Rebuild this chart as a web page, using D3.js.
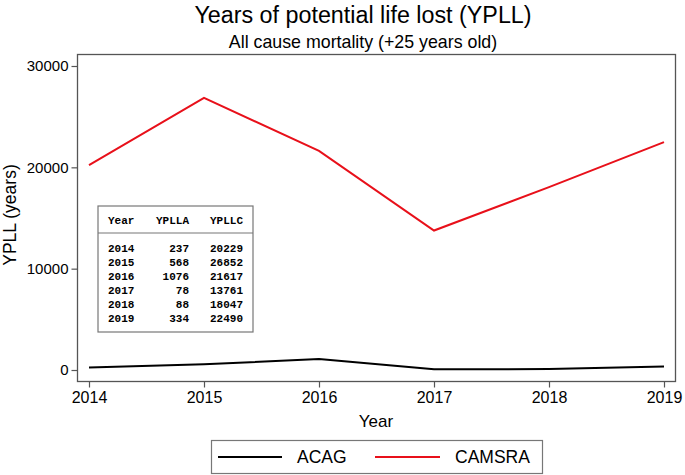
<!DOCTYPE html>
<html><head><meta charset="utf-8">
<script src="https://cdn.jsdelivr.net/npm/d3@7"></script>
<style>body{margin:0;background:#fff}svg{display:block}</style>
</head><body>
<script>
const years = [2014, 2015, 2016, 2017, 2018, 2019];
const ypllA = [237, 568, 1076, 78, 88, 334];
const ypllC = [20229, 26852, 21617, 13761, 18047, 22490];
const yTicks = [0, 10000, 20000, 30000];
const seriesNames = ["ACAG", "CAMSRA"];
const seriesColors = ["#000000", "#e8101a"];

const SANS = "Arial,'Liberation Sans',sans-serif";
const MONO = "'Courier New','Liberation Mono',monospace";
const W = 685, H = 475;
const svg = d3.select("body").append("svg").attr("width", W).attr("height", H)
  .style("font-family", SANS);
const L = 77.5, R = 675.5, T = 54.5, B = 381.5;
const x = d3.scaleLinear().domain([2014, 2019]).range([89, 664]);
const y = d3.scaleLinear().domain([0, 30000]).range([370, 66]);

svg.append("rect").attr("x", L).attr("y", T).attr("width", R - L).attr("height", B - T)
  .attr("fill", "none").attr("stroke", "#555").attr("stroke-width", 1.3);

const yAx = svg.append("g").attr("transform", `translate(${L},0)`)
  .call(d3.axisLeft(y).tickValues(yTicks).tickSize(6).tickPadding(3).tickFormat(d3.format("d")));
yAx.select(".domain").remove();
yAx.selectAll("line").attr("stroke", "#555").attr("stroke-width", 1.2);
yAx.selectAll("text").style("font-size", "15px").style("font-family", SANS).attr("fill", "#000");

const xAx = svg.append("g").attr("transform", `translate(0,${B})`)
  .call(d3.axisBottom(x).tickValues(years).tickSize(6).tickPadding(4).tickFormat(d3.format("d")));
xAx.select(".domain").remove();
xAx.selectAll("line").attr("stroke", "#555").attr("stroke-width", 1.2);
xAx.selectAll("text").style("font-size", "16px").style("font-family", SANS).attr("fill", "#000");

const line = d3.line().x((d, i) => x(years[i])).y(d => y(d));
[ypllA, ypllC].forEach((s, k) => {
  svg.append("path").datum(s).attr("d", line).attr("fill", "none")
    .attr("stroke", seriesColors[k]).attr("stroke-width", 2);
});

// titles
svg.append("text").attr("x", 363).attr("y", 23).attr("text-anchor", "middle").style("font-size", "23.3px").text("Years of potential life lost (YPLL)");
svg.append("text").attr("x", 363).attr("y", 48).attr("text-anchor", "middle").style("font-size", "17.8px").text("All cause mortality (+25 years old)");
svg.append("text").attr("x", 376).attr("y", 427).attr("text-anchor", "middle").style("font-size", "17px").text("Year");
svg.append("text").attr("transform", "translate(16,215) rotate(-90)").attr("text-anchor", "middle").style("font-size", "17.5px").text("YPLL (years)");

// table
const tb = svg.append("g");
tb.append("rect").attr("x", 98).attr("y", 206).attr("width", 155).attr("height", 126)
  .attr("fill", "#fff").attr("stroke", "#777").attr("stroke-width", 1.2);
tb.append("line").attr("x1", 98).attr("x2", 253).attr("y1", 233).attr("y2", 233).attr("stroke", "#777").attr("stroke-width", 1.2);
const hdr = [["Year", 108, "start"], ["YPLLA", 189, "end"], ["YPLLC", 243, "end"]];
hdr.forEach(h => tb.append("text").attr("x", h[1]).attr("y", 224).attr("text-anchor", h[2])
  .style("font-family", MONO).style("font-weight", "bold").style("font-size", "11px").text(h[0]));
years.forEach((yr, i) => {
  const yy = 252 + i * 14;
  [[yr, 108, "start"], [ypllA[i], 189, "end"], [ypllC[i], 243, "end"]].forEach(c =>
    tb.append("text").attr("x", c[1]).attr("y", yy).attr("text-anchor", c[2])
      .style("font-family", MONO).style("font-weight", "bold").style("font-size", "11px").text(c[0]));
});

// legend
const lg = svg.append("g");
lg.append("rect").attr("x", 211.5).attr("y", 440.5).attr("width", 331).attr("height", 33)
  .attr("fill", "#fff").attr("stroke", "#777").attr("stroke-width", 1.2);
const lgPos = [[218, 282, 297], [375, 440, 455]];
seriesNames.forEach((n, k) => {
  lg.append("line").attr("x1", lgPos[k][0]).attr("x2", lgPos[k][1]).attr("y1", 457).attr("y2", 457)
    .attr("stroke", seriesColors[k]).attr("stroke-width", 2);
  lg.append("text").attr("x", lgPos[k][2]).attr("y", 463).style("font-size", "17.5px").text(n);
});
</script>
</body></html>
